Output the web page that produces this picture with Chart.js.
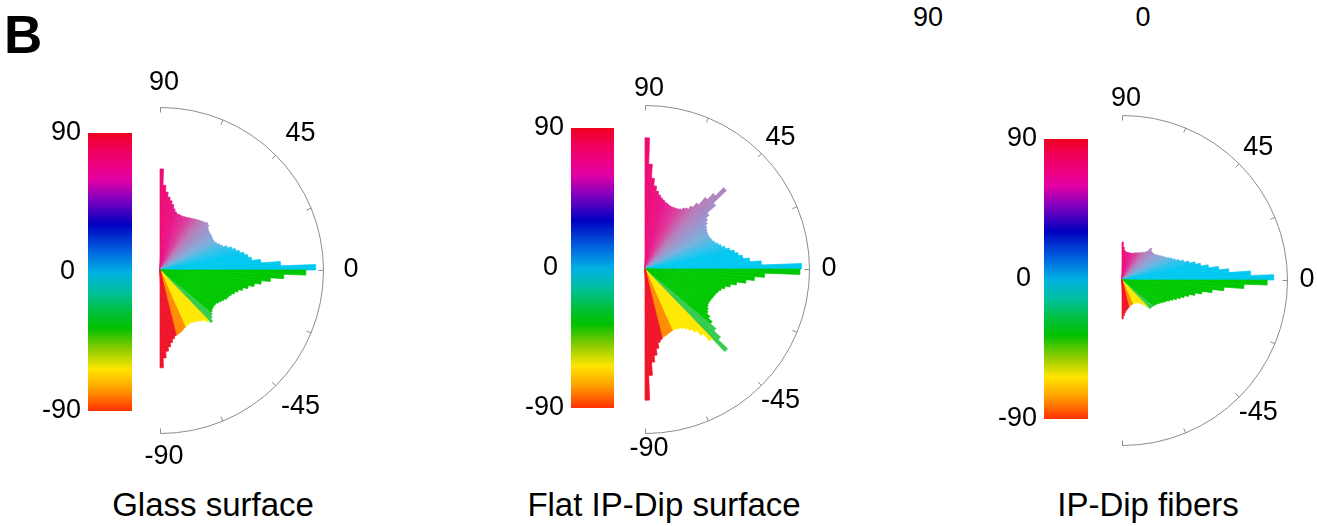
<!DOCTYPE html>
<html>
<head>
<meta charset="utf-8">
<script src="https://cdn.jsdelivr.net/npm/chart.js@4.4.1/dist/chart.umd.min.js"></script>
<style>
  html, body { margin: 0; padding: 0; background: #fff; }
  body {
    width: 1317px; height: 526px; position: relative; overflow: hidden;
    font-family: "Liberation Sans", Arial, Helvetica, sans-serif; color: #000;
  }
  canvas { position: absolute; top: 0; }
  .title { position: absolute; top: 487px; font-size: 33px; line-height: 36px; white-space: nowrap; transform: translateX(-50%); }
  .letter { position: absolute; left: 4px; top: 8px; font-size: 53px; line-height: 53px; font-weight: bold; }
  .stray { position: absolute; top: 2px; font-size: 27px; line-height: 30px; transform: translateX(-50%); }
</style>
</head>
<body>
<div class="letter">B</div>
<div class="stray" style="left:928px">90</div>
<div class="stray" style="left:1143px">0</div>
<div class="title" style="left:213px">Glass surface</div>
<div class="title" style="left:664px">Flat IP-Dip surface</div>
<div class="title" style="left:1148px">IP-Dip fibers</div>

<script>
// orientation bins, 2 degrees wide, from +90 (top) to -90 (bottom)
const BIN_WIDTH = 2;
const binCenters = [];
for (let a = 90 - BIN_WIDTH / 2; a > -90; a -= BIN_WIDTH) binCenters.push(a);

// radial length of each bin (fraction of the outer circle)
const glassSurface = [
  // 89 .. 1
  0.62, 0.52, 0.48, 0.45, 0.43, 0.41, 0.385, 0.37, 0.36, 0.36,
  0.358, 0.357, 0.36, 0.362, 0.366, 0.37, 0.374, 0.38, 0.385, 0.39,
  0.395, 0.40, 0.41, 0.405, 0.39, 0.383, 0.38, 0.38, 0.378, 0.376,
  0.375, 0.378, 0.385, 0.398, 0.41, 0.435, 0.46, 0.48, 0.50, 0.525,
  0.545, 0.565, 0.62, 0.74, 0.955,
  // -1 .. -89
  0.895, 0.76, 0.68, 0.625, 0.585, 0.55, 0.52, 0.495, 0.478, 0.463,
  0.452, 0.445, 0.432, 0.42, 0.41, 0.40, 0.398, 0.398, 0.40, 0.408,
  0.42, 0.432, 0.45, 0.43, 0.41, 0.40, 0.392, 0.385, 0.38, 0.376,
  0.375, 0.377, 0.38, 0.385, 0.392, 0.40, 0.405, 0.41, 0.415, 0.43,
  0.45, 0.475, 0.50, 0.54, 0.60
];

const flatIpDip = [
  // 89 .. 1
  0.80, 0.64, 0.555, 0.51, 0.48, 0.46, 0.445, 0.435, 0.425, 0.42,
  0.415, 0.412, 0.413, 0.415, 0.418, 0.425, 0.44, 0.45, 0.475, 0.51,
  0.57, 0.62, 0.69, 0.58, 0.51, 0.485, 0.47, 0.455, 0.447, 0.44,
  0.437, 0.437, 0.44, 0.445, 0.455, 0.47, 0.485, 0.505, 0.53, 0.555,
  0.575, 0.60, 0.64, 0.71, 0.955,
  // -1 .. -89
  0.945, 0.73, 0.67, 0.62, 0.565, 0.53, 0.50, 0.48, 0.467, 0.458,
  0.452, 0.447, 0.443, 0.44, 0.44, 0.445, 0.455, 0.465, 0.49, 0.52,
  0.565, 0.62, 0.70, 0.59, 0.53, 0.49, 0.465, 0.445, 0.43, 0.42,
  0.415, 0.41, 0.41, 0.412, 0.415, 0.42, 0.425, 0.43, 0.44, 0.455,
  0.49, 0.53, 0.57, 0.65, 0.80
];

const ipDipFibers = [
  // 89 .. 1
  0.23, 0.20, 0.18, 0.174, 0.171, 0.17, 0.17, 0.17, 0.171, 0.172,
  0.174, 0.176, 0.18, 0.184, 0.188, 0.192, 0.197, 0.202, 0.208, 0.215,
  0.228, 0.262, 0.25, 0.248, 0.248, 0.25, 0.254, 0.262, 0.27, 0.28,
  0.29, 0.30, 0.315, 0.33, 0.345, 0.365, 0.39, 0.42, 0.455, 0.485,
  0.53, 0.59, 0.65, 0.78, 0.92,
  // -1 .. -89
  0.88, 0.74, 0.62, 0.55, 0.49, 0.45, 0.415, 0.39, 0.37, 0.35,
  0.33, 0.315, 0.30, 0.29, 0.28, 0.27, 0.262, 0.255, 0.25, 0.247,
  0.245, 0.244, 0.243, 0.22, 0.20, 0.185, 0.175, 0.168, 0.164, 0.162,
  0.16, 0.159, 0.159, 0.159, 0.16, 0.162, 0.165, 0.168, 0.172, 0.177,
  0.182, 0.19, 0.20, 0.215, 0.235
];

// tick labels
const arcTickAngles = [90, 67.5, 45, 22.5, 0, -22.5, -45, -67.5, -90];
const angleLabels = [90, 45, 0, -45, -90];
const fiberAngleLabels = [90, 45, 0, -45];
const colorbarLabels = [90, 0, -90];

// colour scale of the colour bar (top = 90, bottom = -90)
const colorbarStops = [
  [0.00, '#f00020'], [0.06, '#f0005a'], [0.12, '#ec0084'], [0.17, '#e000a4'],
  [0.24, '#8000c0'], [0.33, '#0000c0'], [0.43, '#0068e0'], [0.50, '#00b0e4'],
  [0.57, '#00c0a0'], [0.64, '#00c040'], [0.70, '#00c000'], [0.78, '#90cc00'],
  [0.85, '#ffe600'], [0.92, '#ffa000'], [1.00, '#ff3000']
];

// colours used for the rose wedges
const roseUpperStops = [
  [0, '#00c8f0'], [10, '#00c8f0'], [18, '#30c2ec'], [28, '#78b0dc'],
  [40, '#9c94cc'], [50, '#b87ab8'], [62, '#dc3c9c'], [75, '#e8168c'], [90, '#f00a70']
];
const roseLowerBands = [
  [-40, '#00c800'], [-46, '#33cc4c'], [-66, '#ffe800'], [-76, '#ff8c00'], [-90, '#f01428']
];

function hexToRgb(h) {
  return [parseInt(h.slice(1, 3), 16), parseInt(h.slice(3, 5), 16), parseInt(h.slice(5, 7), 16)];
}

function roseColor(a) {
  if (a < 0) {
    for (const [lim, c] of roseLowerBands) if (a > lim) return c;
    return roseLowerBands[roseLowerBands.length - 1][1];
  }
  for (let i = 1; i < roseUpperStops.length; i++) {
    const [a0, c0] = roseUpperStops[i - 1];
    const [a1, c1] = roseUpperStops[i];
    if (a <= a1) {
      const t = (a - a0) / (a1 - a0);
      const p = hexToRgb(c0), q = hexToRgb(c1);
      const m = p.map((v, k) => Math.round(v + (q[k] - v) * t));
      return 'rgb(' + m.join(',') + ')';
    }
  }
  return roseUpperStops[roseUpperStops.length - 1][1];
}

const FONT = '27px "Liberation Sans", Arial, Helvetica, sans-serif';

// draws the half circle, its ticks and labels, and the colour bar
const halfRosePlugin = {
  id: 'halfRose',
  afterDatasetsDraw(chart, args, opts) {
    const r = chart.scales.r;
    const cx = r.xCenter, cy = r.yCenter, R = r.drawingArea;
    const ctx = chart.ctx;
    ctx.save();

    ctx.strokeStyle = '#8c8c8c';
    ctx.lineWidth = 1;
    ctx.beginPath();
    ctx.arc(cx + 0.5, cy + 0.5, R, -Math.PI / 2, Math.PI / 2);
    ctx.stroke();
    arcTickAngles.forEach(t => {
      const th = t * Math.PI / 180;
      const c = Math.cos(th), s = -Math.sin(th);
      ctx.beginPath();
      ctx.moveTo(cx + 0.5 + R * c, cy + 0.5 + R * s);
      ctx.lineTo(cx + 0.5 + (R - 5) * c, cy + 0.5 + (R - 5) * s);
      ctx.stroke();
    });

    ctx.fillStyle = '#000';
    ctx.font = FONT;
    ctx.textAlign = 'center';
    ctx.textBaseline = 'middle';
    opts.labels.forEach(t => {
      const th = t * Math.PI / 180;
      const d = R + opts.labelGap + (Math.abs(t) === 45 ? 6 : 0);
      ctx.fillText(String(t), cx + 4 + d * Math.cos(th), cy - d * Math.sin(th));
    });

    const bar = opts.bar;
    const bx = cx + bar.x, by = cy + bar.y;
    const grad = ctx.createLinearGradient(0, by, 0, by + bar.h);
    colorbarStops.forEach(([p, c]) => grad.addColorStop(p, c));
    ctx.fillStyle = grad;
    ctx.fillRect(bx, by, bar.w, bar.h);

    ctx.fillStyle = '#000';
    ctx.textAlign = 'right';
    colorbarLabels.forEach(v => {
      const y = by + (90 - v) / 180 * bar.h;
      ctx.fillText(String(v), bx - (v === 0 ? 13 : 7), y);
    });
    ctx.restore();
  }
};

const CANVAS_W = 460, CANVAS_H = 526;

function makePanel(series, cx, cy, R, labels, labelGap, bar) {
  const canvas = document.createElement('canvas');
  canvas.width = CANVAS_W;
  canvas.height = CANVAS_H;
  canvas.style.width = CANVAS_W + 'px';
  canvas.style.height = CANVAS_H + 'px';
  canvas.style.left = (cx - CANVAS_W / 2) + 'px';
  document.body.appendChild(canvas);

  // left half of the circle stays empty
  const empty = binCenters.map(() => 0);
  const colors = binCenters.map(roseColor);

  new Chart(canvas, {
    type: 'polarArea',
    data: {
      labels: binCenters.map(String).concat(binCenters.map(() => '')),
      datasets: [{
        data: series.concat(empty),
        backgroundColor: colors.concat(empty.map(() => 'rgba(0,0,0,0)')),
        borderColor: colors.concat(empty.map(() => 'rgba(0,0,0,0)')),
        borderWidth: 0.7
      }]
    },
    options: {
      responsive: false,
      animation: false,
      events: [],
      layout: {
        padding: {
          left: CANVAS_W / 2 - R,
          right: CANVAS_W / 2 - R,
          top: cy - R,
          bottom: CANVAS_H - cy - R
        }
      },
      scales: {
        r: {
          min: 0,
          max: 1,
          startAngle: 0,
          ticks: { display: false },
          grid: { display: false },
          angleLines: { display: false },
          pointLabels: { display: false }
        }
      },
      plugins: {
        legend: { display: false },
        tooltip: { enabled: false },
        halfRose: { labels: labels, labelGap: labelGap, bar: bar }
      }
    },
    plugins: [halfRosePlugin]
  });
}

makePanel(glassSurface, 160, 270, 163, angleLabels, 24, { x: -72, y: -137, w: 44, h: 278 });
makePanel(flatIpDip, 645, 269, 164, angleLabels, 16, { x: -74, y: -141, w: 43, h: 280 });
makePanel(ipDipFibers, 1122, 280, 165, fiberAngleLabels, 16, { x: -78, y: -141, w: 44, h: 280 });
</script>
</body>
</html>
